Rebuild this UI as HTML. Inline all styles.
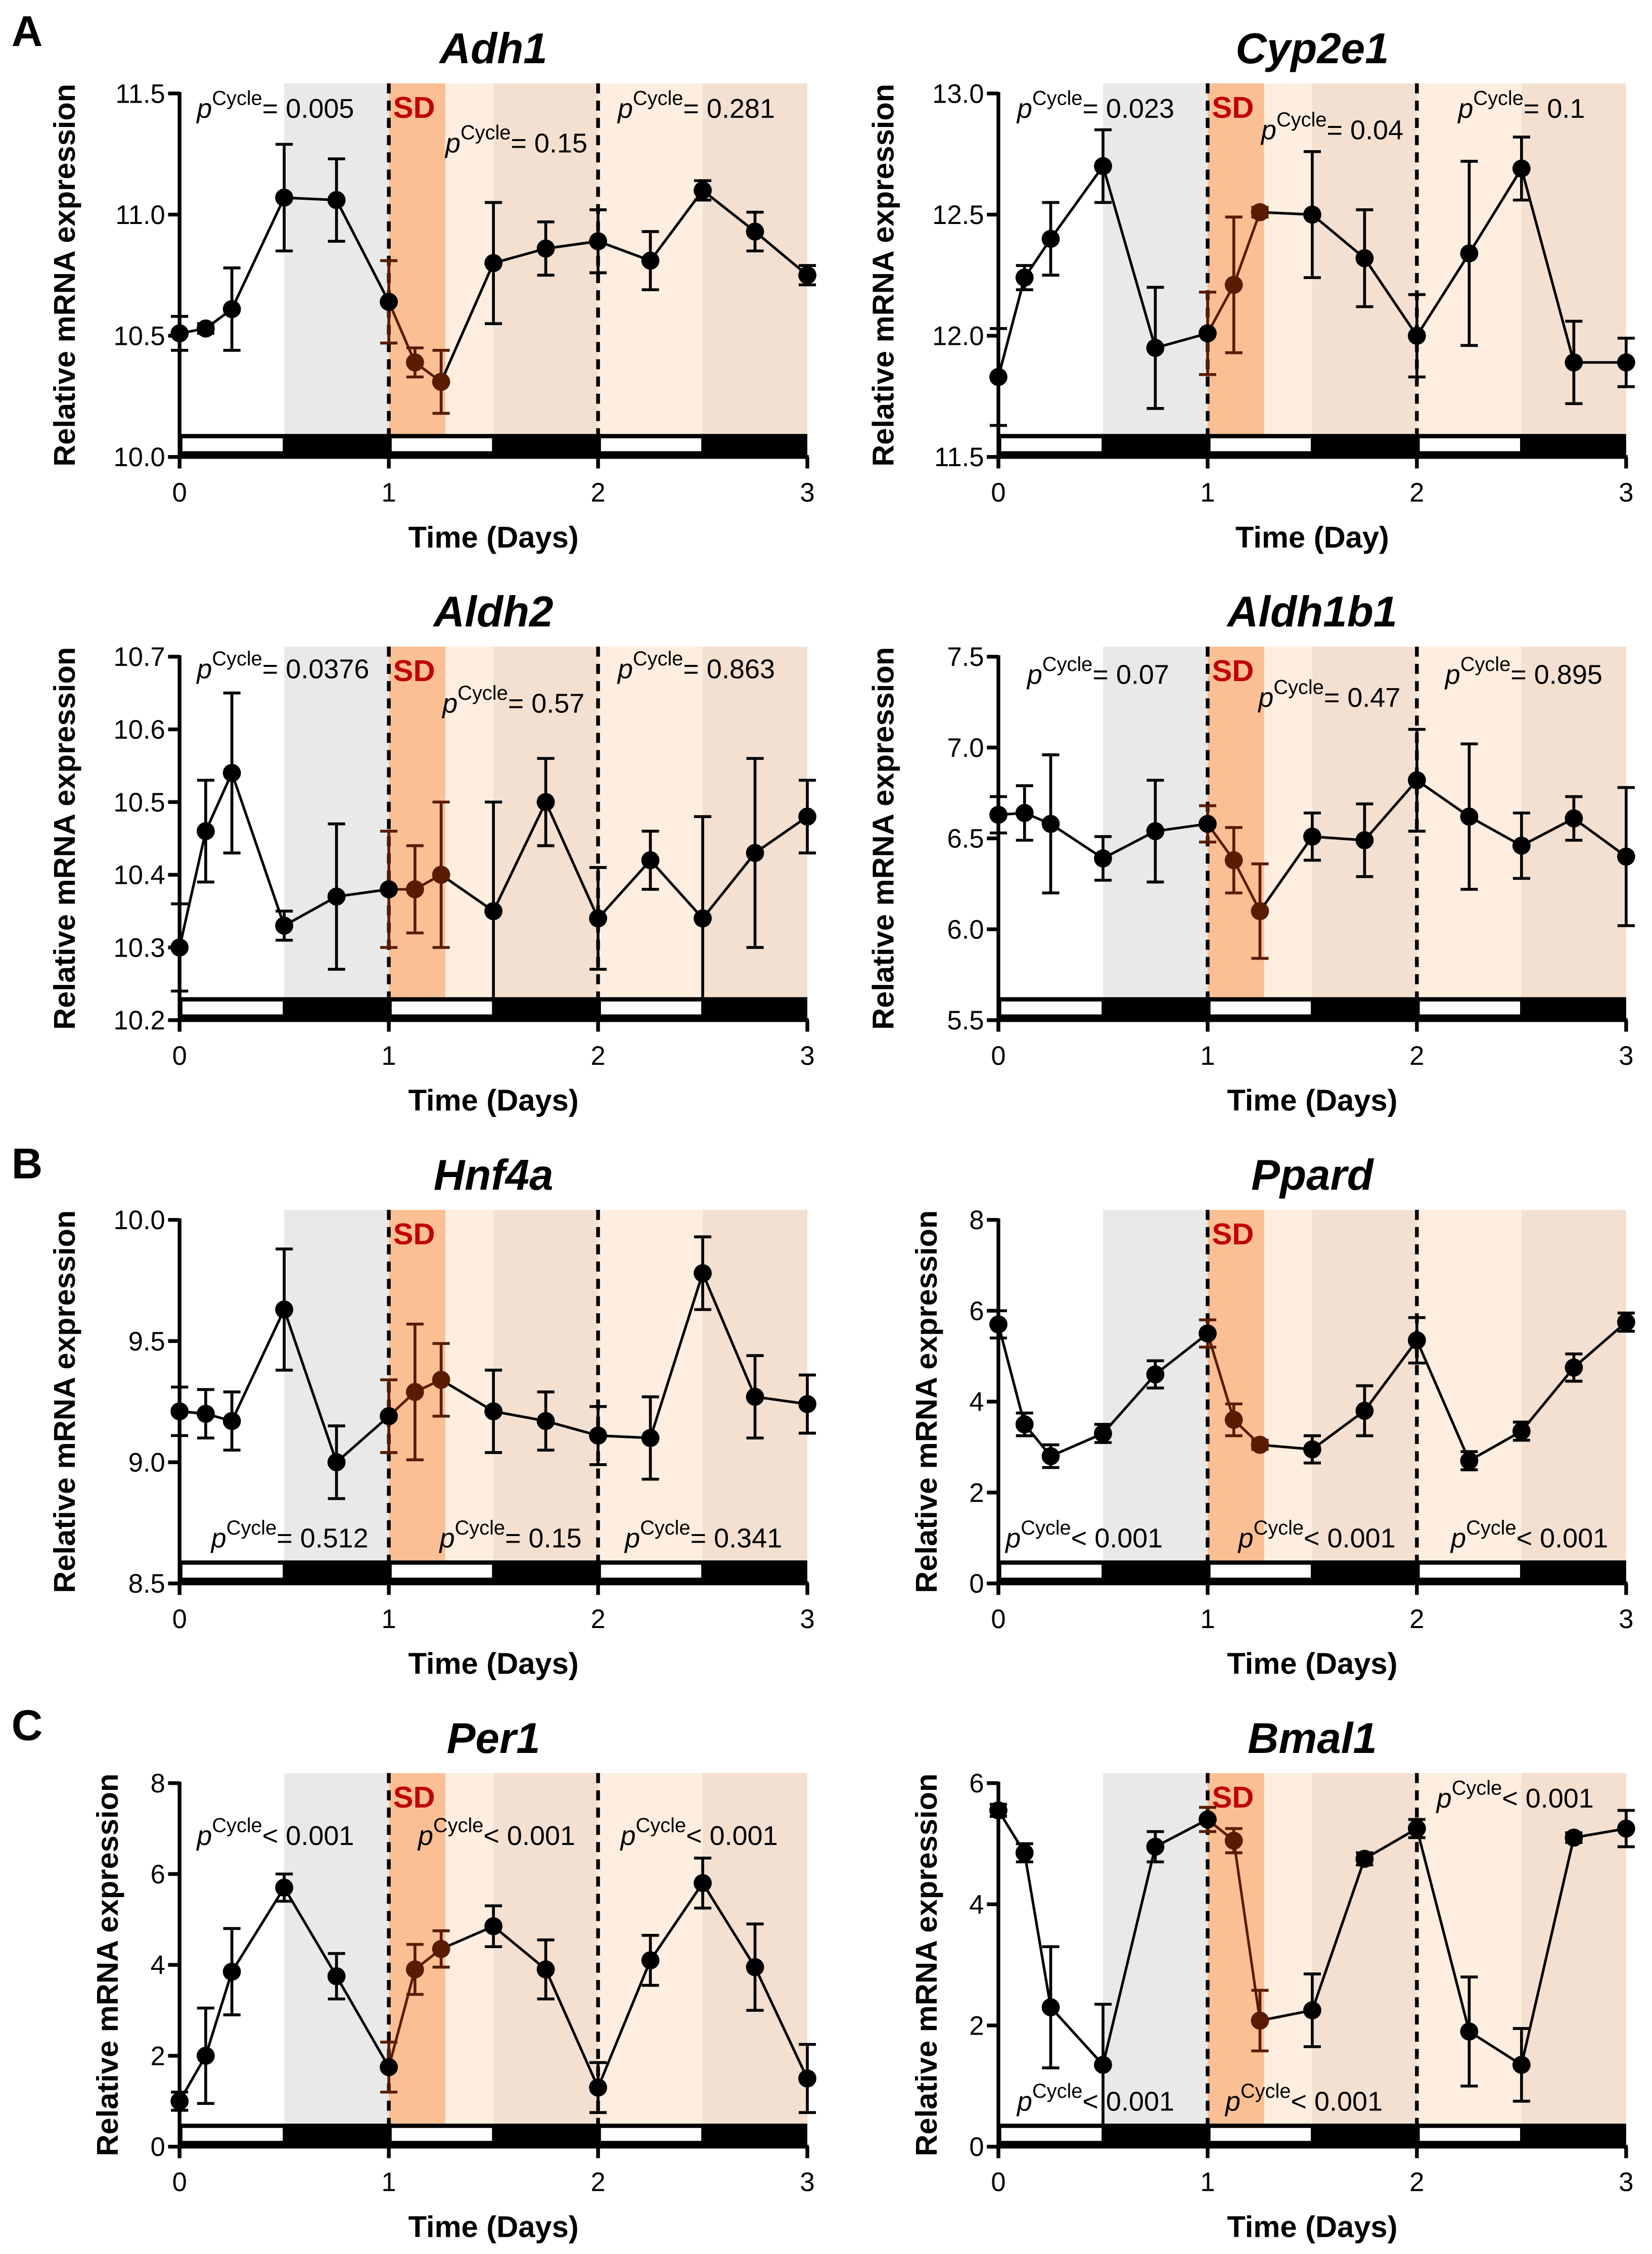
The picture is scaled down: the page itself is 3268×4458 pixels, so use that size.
<!DOCTYPE html>
<html><head><meta charset="utf-8">
<style>
html,body{margin:0;padding:0;background:#fff;}
svg{display:block;font-family:"Liberation Sans",Arial,sans-serif;}
</style></head>
<body>
<svg id="fig" width="3268" height="4458" viewBox="0 0 1150 1568.7" xmlns="http://www.w3.org/2000/svg">
<text x="8" y="32" font-size="30" font-weight="bold">A</text>
<text x="8" y="820" font-size="30" font-weight="bold">B</text>
<text x="8" y="1211" font-size="30" font-weight="bold">C</text>
</svg>
<script>
const times = [0,0.125,0.25,0.5,0.75,1,1.125,1.25,1.5,1.75,2,2.25,2.5,2.75,3];
const adh1Mean = [10.51,10.53,10.61,11.07,11.06,10.64,10.39,10.31,10.80,10.86,10.89,10.81,11.10,10.93,10.75];
const adh1Err  = [0.07,0.02,0.17,0.22,0.17,0.17,0.06,0.13,0.25,0.11,0.13,0.12,0.04,0.08,0.04];
const cypMean  = [11.83,12.24,12.40,12.70,11.95,12.01,12.21,12.51,12.50,12.32,12.00,12.34,12.69,11.89,11.89];
const cypErr   = [0.20,0.05,0.15,0.15,0.25,0.17,0.28,0.02,0.26,0.20,0.17,0.38,0.13,0.17,0.10];
const aldh2Mean= [10.30,10.46,10.54,10.33,10.37,10.38,10.38,10.40,10.35,10.50,10.34,10.42,10.34,10.43,10.48];
const aldh2Err = [0.06,0.07,0.11,0.02,0.10,0.08,0.06,0.10,0.15,0.06,0.07,0.04,0.14,0.13,0.05];
const aldhbMean= [6.63,6.64,6.58,6.39,6.54,6.58,6.38,6.10,6.51,6.49,6.82,6.62,6.46,6.61,6.40];
const aldhbErr = [0.10,0.15,0.38,0.12,0.28,0.10,0.18,0.26,0.13,0.20,0.28,0.40,0.18,0.12,0.38];
const hnfMean  = [9.21,9.20,9.17,9.63,9.00,9.19,9.29,9.34,9.21,9.17,9.11,9.10,9.78,9.27,9.24];
const hnfErr   = [0.10,0.10,0.12,0.25,0.15,0.15,0.28,0.15,0.17,0.12,0.12,0.17,0.15,0.17,0.12];
const ppardMean= [5.7,3.5,2.8,3.3,4.6,5.5,3.6,3.05,2.95,3.8,5.35,2.7,3.35,4.75,5.75];
const ppardErr = [0.3,0.25,0.25,0.2,0.3,0.3,0.35,0.1,0.3,0.55,0.5,0.2,0.2,0.3,0.2];
const per1Mean = [1.0,2.0,3.85,5.7,3.75,1.75,3.9,4.35,4.85,3.9,1.3,4.1,5.8,3.95,1.5];
const per1Err  = [0.2,1.05,0.95,0.3,0.5,0.55,0.55,0.4,0.45,0.65,0.55,0.55,0.55,0.95,0.75];
const bmalMean = [5.55,4.85,2.3,1.35,4.95,5.4,5.05,2.08,2.25,4.75,5.25,1.9,1.35,5.1,5.25];
const bmalErr  = [0.1,0.15,1.0,1.0,0.25,0.2,0.2,0.5,0.6,0.1,0.15,0.9,0.6,0.08,0.3];
const xTicks = [0,1,2,3];

const panels = [
 {id:'adh1',title:'Adh1',x0:125,row:0,ymin:10,ymax:11.5,ticks:[10,10.5,11,11.5],dec:1,mean:adh1Mean,err:adh1Err,yl:45,xl:'Time (Days)',
  p:[[137,82,'= 0.005'],[310,106,'= 0.15'],[430,82,'= 0.281']]},
 {id:'cyp2e1',title:'Cyp2e1',x0:695,row:0,ymin:11.5,ymax:13,ticks:[11.5,12,12.5,13],dec:1,mean:cypMean,err:cypErr,yl:615,xl:'Time (Day)',
  p:[[708,82,'= 0.023'],[878,97,'= 0.04'],[1015,82,'= 0.1']]},
 {id:'aldh2',title:'Aldh2',x0:125,row:1,ymin:10.2,ymax:10.7,ticks:[10.2,10.3,10.4,10.5,10.6,10.7],dec:1,mean:aldh2Mean,err:aldh2Err,yl:45,xl:'Time (Days)',
  p:[[137,472,'= 0.0376'],[308,496,'= 0.57'],[430,472,'= 0.863']]},
 {id:'aldh1b1',title:'Aldh1b1',x0:695,row:1,ymin:5.5,ymax:7.5,ticks:[5.5,6,6.5,7,7.5],dec:1,mean:aldhbMean,err:aldhbErr,yl:615,xl:'Time (Days)',
  p:[[715,476,'= 0.07'],[876,492,'= 0.47'],[1006,476,'= 0.895']]},
 {id:'hnf4a',title:'Hnf4a',x0:125,row:2,ymin:8.5,ymax:10,ticks:[8.5,9,9.5,10],dec:1,mean:hnfMean,err:hnfErr,yl:45,xl:'Time (Days)',
  p:[[147,1077,'= 0.512'],[306,1077,'= 0.15'],[435,1077,'= 0.341']]},
 {id:'ppard',title:'Ppard',x0:695,row:2,ymin:0,ymax:8,ticks:[0,2,4,6,8],dec:0,mean:ppardMean,err:ppardErr,yl:645,xl:'Time (Days)',
  p:[[700,1077,'< 0.001'],[862,1077,'< 0.001'],[1010,1077,'< 0.001']]},
 {id:'per1',title:'Per1',x0:125,row:3,ymin:0,ymax:8,ticks:[0,2,4,6,8],dec:0,mean:per1Mean,err:per1Err,yl:75,xl:'Time (Days)',
  p:[[137,1284,'< 0.001'],[291,1284,'< 0.001'],[432,1284,'< 0.001']]},
 {id:'bmal1',title:'Bmal1',x0:695,row:3,ymin:0,ymax:6,ticks:[0,2,4,6],dec:0,mean:bmalMean,err:bmalErr,yl:645,xl:'Time (Days)',
  p:[[708,1469,'< 0.001'],[853,1469,'< 0.001'],[1000,1258,'< 0.001']]}
];
const NS='http://www.w3.org/2000/svg';
const svg=document.getElementById('fig');
function mk(tag,attrs,parent){const e=document.createElementNS(NS,tag);for(const k in attrs)e.setAttribute(k,attrs[k]);(parent||svg).appendChild(e);return e;}

panels.forEach(P=>{
  const g=mk('g',{});
  
  
  const W=437, yTop=65+392*P.row, yBot=yTop+253;
  const sx=t=>P.x0+t/3*W;
  const sy=v=>yBot-(v-P.ymin)/(P.ymax-P.ymin)*(yBot-yTop);
  const barTop=yBot-16, shadeTop=yTop-7;
  const bands=[[0.5,1,'#e9e9e9'],[1,1.27,'#fbbf94'],[1.27,1.5,'#fdeee0'],[1.5,2,'#f3e0d0'],[2,2.5,'#fdeee0'],[2.5,3,'#f3e0d0']];
  bands.forEach(b=>{
    const r=mk('rect',{x:sx(b[0]),y:shadeTop,width:sx(b[1])-sx(b[0]),height:barTop-shadeTop,fill:b[2]},g);
    
    
  });
  // light/dark bar
  const lb=mk('rect',{x:sx(0),y:barTop,width:W,height:16,fill:'#000'},g);
  
  
  [0,1,2].forEach(d=>{mk('rect',{x:sx(d)+2,y:barTop+3,width:sx(d+0.5)-sx(d)-3,height:9,fill:'#fff'},g);});
  // dashed lines
  [1,2].forEach(d=>{
    const l=mk('line',{x1:sx(d),x2:sx(d),y1:shadeTop,y2:yBot,stroke:'#000','stroke-width':2.6,'stroke-dasharray':'7,5'},g);
    
    
  });
  // axes
  const ya=mk('line',{x1:P.x0,x2:P.x0,y1:yTop-1,y2:yBot+8,stroke:'#000','stroke-width':2.6},g);
  
  
  const xa=mk('line',{x1:P.x0-8,x2:P.x0+W+1,y1:yBot,y2:yBot,stroke:'#000','stroke-width':2.6},g);
  
  
  P.ticks.forEach(v=>{
    mk('line',{x1:P.x0-8,x2:P.x0,y1:sy(v),y2:sy(v),stroke:'#000','stroke-width':2.6},g);
    const t=mk('text',{x:P.x0-10,y:sy(v)+6.5,'font-size':18.5,'text-anchor':'end'},g);
    t.textContent=v.toFixed(P.dec);
    
    
  });
  xTicks.forEach(d=>{
    mk('line',{x1:sx(d),x2:sx(d),y1:yBot,y2:yBot+8,stroke:'#000','stroke-width':2.6},g);
    const t=mk('text',{x:sx(d),y:yBot+31,'font-size':18.5,'text-anchor':'middle'},g);
    t.textContent=d;
    
    
  });
  const xt=mk('text',{x:P.x0+W/2,y:yBot+63,'font-size':21,'font-weight':'bold','text-anchor':'middle'},g);
  xt.textContent=P.xl;
  
  
  const cy=(yTop+yBot)/2;
  const yt=mk('text',{x:P.yl,y:cy,'font-size':21,'font-weight':'bold','text-anchor':'middle',transform:`rotate(-90 ${P.yl} ${cy}) translate(0 7)`},g);
  yt.textContent='Relative mRNA expression';
  
  
  const ti=mk('text',{x:P.x0+W/2,y:yTop-21,'font-size':30,'font-weight':'bold','font-style':'italic','text-anchor':'middle'},g);
  ti.textContent=P.title;
  
  
  const sd=mk('text',{x:sx(1)+3,y:yTop+17,'font-size':21,'font-weight':'bold',fill:'#c00000'},g);
  sd.textContent='SD';
  
  
  // p annotations
  P.p.forEach(a=>{
    const t=mk('text',{x:a[0],y:a[1],'font-size':19},g);
    
    
    const s1=mk('tspan',{'font-style':'italic'},t);s1.textContent='p';
    const s2=mk('tspan',{'font-size':14,dy:-9},t);s2.textContent='Cycle';
    const s3=mk('tspan',{dy:9},t);s3.textContent=a[2];
  });
  // series
  const colorOf=i=>(times[i]>1.01&&times[i]<1.3)?'#5a1c00':'#000';
  for(let i=0;i<times.length-1;i++){
    const c=(times[i]>=1&&times[i+1]<=1.3)?'#5a1c00':'#000';
    mk('line',{x1:sx(times[i]),y1:sy(P.mean[i]),x2:sx(times[i+1]),y2:sy(P.mean[i+1]),stroke:c,'stroke-width':1.8},g);
  }
  times.forEach((t,i)=>{
    const x=sx(t),m=P.mean[i],e=P.err[i];
    const c=(t>=1&&t<1.3)?'#5a1c00':'#000';
    const eb=mk('path',{d:`M${x},${sy(m-e)}V${sy(m+e)}M${x-6},${sy(m-e)}H${x+6}M${x-6},${sy(m+e)}H${x+6}`,stroke:c,'stroke-width':2,fill:'none'},g);
    
    
    const pt=mk('circle',{cx:x,cy:sy(m),r:6.3,fill:colorOf(i)},g);
    
    
  });
});
</script>
</body></html>
